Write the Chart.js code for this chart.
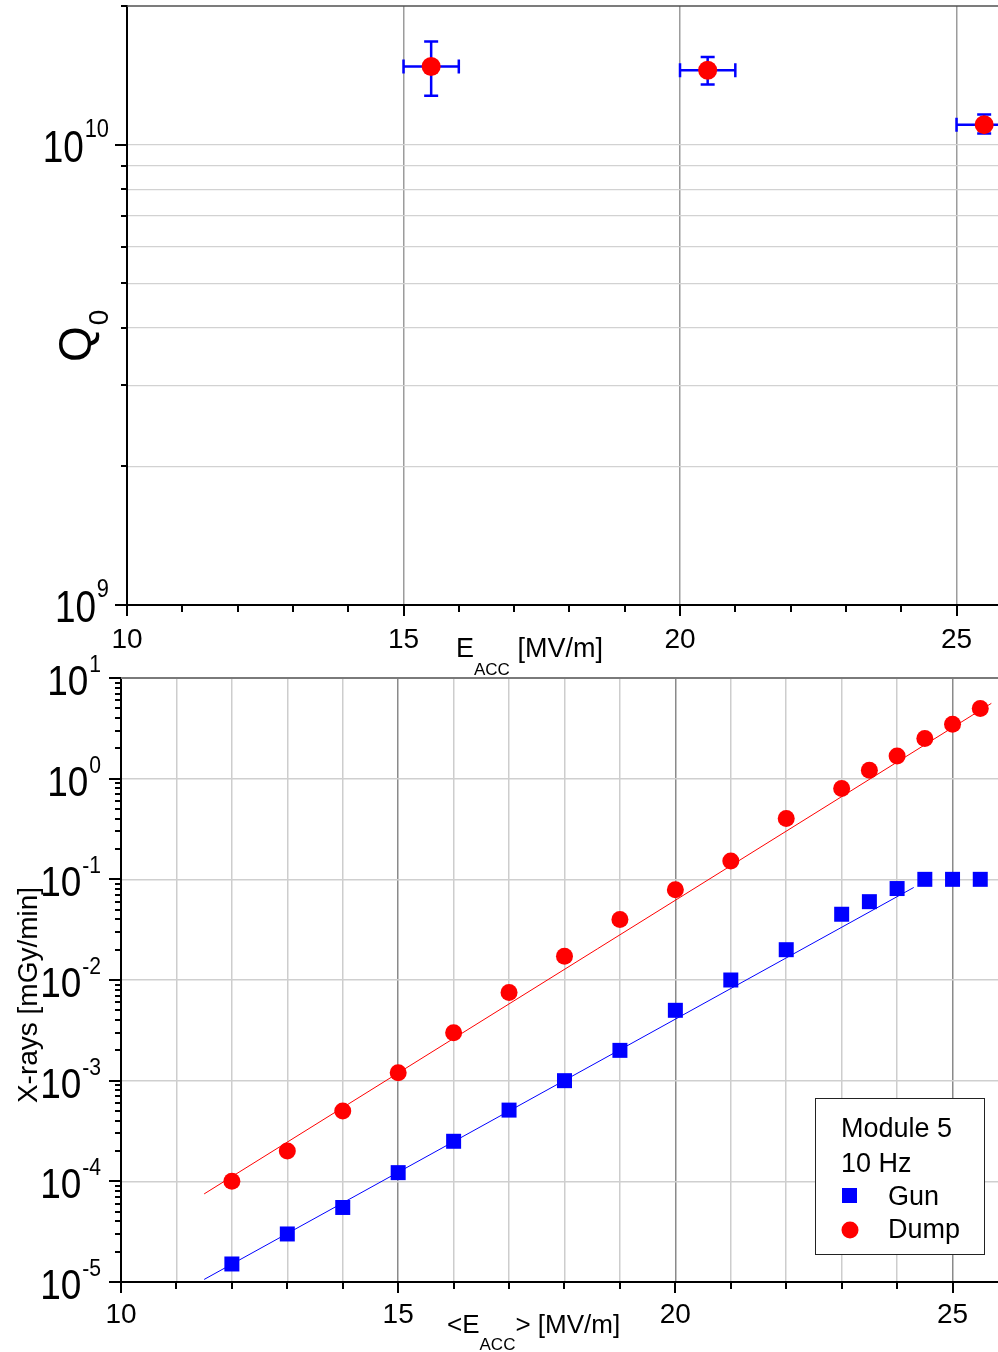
<!DOCTYPE html>
<html lang="en">
<head>
<meta charset="UTF-8">
<title>Q0 and X-rays vs Eacc</title>
<script src="https://cdn.jsdelivr.net/npm/chart.js@4.4.1/dist/chart.umd.min.js"></script>
<style>
  body { margin: 0; background: #fff; }
  #wrap { position: relative; width: 998px; height: 1352px; overflow: hidden; }
  #topChart { position: absolute; left: 0; top: 0; }
  #bottomChart { position: absolute; left: 0; top: 640px; }
</style>
</head>
<body>
<div id="wrap">
  <canvas id="topChart" width="998" height="690"></canvas>
  <canvas id="bottomChart" width="998" height="712"></canvas>
</div>
<script>
// ---- data: top panel, Q0 vs Eacc ----
const q0Eacc = [15.5, 20.5, 25.5];
const q0EaccErr = [0.5, 0.5, 0.5];
const q0Value = [1.478e10, 1.45e10, 1.105e10];
const q0Low = [1.277e10, 1.35e10, 1.057e10];
const q0High = [1.675e10, 1.55e10, 1.162e10];

// ---- data: bottom panel, x-ray dose vs <Eacc> ----
const eaccSteps = [12, 13, 14, 15, 16, 17, 18, 19, 20, 21, 22, 23, 23.5, 24, 24.5, 25, 25.5];
const gunDose = [1.51e-5, 3.0e-5, 5.5e-5, 1.22e-4, 2.5e-4, 5.1e-4, 1.0e-3, 2.0e-3, 5.0e-3, 1.0e-2, 2.0e-2, 4.5e-2, 6.0e-2, 8.1e-2, 0.1, 0.1, 0.1];
const dumpDose = [1.0e-4, 2.0e-4, 5.0e-4, 1.2e-3, 3.0e-3, 7.5e-3, 1.72e-2, 4.0e-2, 7.9e-2, 0.152, 0.403, 0.80, 1.21, 1.68, 2.51, 3.48, 4.98];
const gunFitEacc = [11.5, 24.3];
const gunFit = [1.06e-5, 8.3e-2];
const dumpFitEacc = [11.5, 25.7];
const dumpFit = [7.5e-5, 5.6];

// ---- ticks ----
const xTickValues = [10, 11, 12, 13, 14, 15, 16, 17, 18, 19, 20, 21, 22, 23, 24, 25];
const xLabelValues = [10, 15, 20, 25];
const q0Ticks = [1e9, 2e9, 3e9, 4e9, 5e9, 6e9, 7e9, 8e9, 9e9, 1e10, 2e10];
const q0Labels = [1e9, 1e10];
const q0Exps = ['9', '10'];
const doseDecades = [1e-5, 1e-4, 1e-3, 1e-2, 1e-1, 1e0, 1e1];
const doseExps = ['-5', '-4', '-3', '-2', '-1', '0', '1'];

const FONT = '"Liberation Sans", Arial, Helvetica, sans-serif';
Chart.defaults.font.family = FONT;

function txt(ctx, s, x, y, size, align) {
    ctx.font = size + 'px ' + FONT;
    ctx.textAlign = align || 'left';
    ctx.fillText(s, x, y);
    return ctx.measureText(s).width;
}

function isDecade(v) {
    const l = Math.log10(v);
    return Math.abs(l - Math.round(l)) < 1e-9;
}

// "10" with a raised exponent, right aligned at xRight
function drawPow(ctx, exp, xRight, y, o) {
    ctx.save();
    ctx.translate(xRight, y + o.drop);
    ctx.scale(o.sx, 1);
    ctx.font = o.sup + 'px ' + FONT;
    const we = ctx.measureText(exp).width;
    ctx.textAlign = 'right';
    ctx.fillText(exp, 0, -o.rise);
    ctx.font = o.base + 'px ' + FONT;
    ctx.fillText('10', -we - o.gap, 0);
    ctx.restore();
}

function axisDecor(cfg) {
    return {
        id: 'axisDecor',
        afterDraw(chart) {
            const {ctx, chartArea: a, scales: {x, y}} = chart;
            ctx.save();
            ctx.strokeStyle = cfg.frameColor;
            ctx.lineWidth = cfg.frameWidth;
            ctx.beginPath();
            ctx.moveTo(a.left, a.top);
            ctx.lineTo(a.right, a.top);
            ctx.stroke();

            ctx.strokeStyle = '#000';
            ctx.lineWidth = 2;
            ctx.beginPath();
            xTickValues.forEach(v => {
                const px = Math.round(x.getPixelForValue(v));
                ctx.moveTo(px, a.bottom);
                ctx.lineTo(px, a.bottom + (v % 5 === 0 ? 11 : 7));
            });
            cfg.yTicks.forEach(v => {
                const py = Math.round(y.getPixelForValue(v));
                ctx.moveTo(a.left, py);
                ctx.lineTo(a.left - (isDecade(v) ? 12 : 6), py);
            });
            ctx.stroke();

            ctx.fillStyle = '#000';
            ctx.textBaseline = 'alphabetic';
            xLabelValues.forEach(v => {
                txt(ctx, String(v), x.getPixelForValue(v), a.bottom + cfg.xLabelDrop, 28, 'center');
            });
            cfg.yLabels.forEach((v, i) => {
                drawPow(ctx, cfg.yExps[i], a.left - cfg.labelGap, y.getPixelForValue(v), cfg.pow);
            });
            cfg.titles(ctx, a);
            ctx.restore();
        }
    };
}

const errorBars = {
    id: 'errorBars',
    beforeDatasetsDraw(chart) {
        const {ctx, chartArea: a, scales: {x, y}} = chart;
        ctx.save();
        ctx.beginPath();
        ctx.rect(a.left, a.top, a.right - a.left, a.bottom - a.top);
        ctx.clip();
        ctx.strokeStyle = '#0000ff';
        ctx.lineWidth = 2.5;
        q0Eacc.forEach((e, i) => {
            const px = x.getPixelForValue(e), py = y.getPixelForValue(q0Value[i]);
            const x0 = x.getPixelForValue(e - q0EaccErr[i]), x1 = x.getPixelForValue(e + q0EaccErr[i]);
            const y0 = y.getPixelForValue(q0Low[i]), y1 = y.getPixelForValue(q0High[i]);
            ctx.beginPath();
            ctx.moveTo(x0, py); ctx.lineTo(x1, py);
            ctx.moveTo(x0, py - 7); ctx.lineTo(x0, py + 7);
            ctx.moveTo(x1, py - 7); ctx.lineTo(x1, py + 7);
            ctx.moveTo(px, y0); ctx.lineTo(px, y1);
            ctx.moveTo(px - 7, y0); ctx.lineTo(px + 7, y0);
            ctx.moveTo(px - 7, y1); ctx.lineTo(px + 7, y1);
            ctx.stroke();
        });
        ctx.restore();
    }
};

const legendBox = {
    id: 'legendBox',
    afterDraw(chart) {
        const ctx = chart.ctx;
        ctx.save();
        ctx.fillStyle = '#fff';
        ctx.fillRect(815.5, 458.5, 169, 156);
        ctx.strokeStyle = '#222';
        ctx.lineWidth = 1;
        ctx.strokeRect(815.5, 458.5, 169, 156);
        ctx.fillStyle = '#000';
        ctx.textBaseline = 'alphabetic';
        txt(ctx, 'Module 5', 841, 497, 27);
        txt(ctx, '10 Hz', 841, 532, 27);
        txt(ctx, 'Gun', 888, 565, 27);
        txt(ctx, 'Dump', 888, 598, 27);
        ctx.fillStyle = '#0000ff';
        ctx.fillRect(842, 548, 15, 15);
        ctx.fillStyle = '#ff0000';
        ctx.beginPath();
        ctx.arc(850, 590, 8.5, 0, Math.PI * 2);
        ctx.fill();
        ctx.restore();
    }
};

function xScale(max, gridColor, gridWidth) {
    return {
        type: 'linear', min: 10, max: max,
        afterBuildTicks: s => { s.ticks = xTickValues.map(v => ({value: v})); },
        afterFit: s => { s.height = 0; },
        ticks: {display: false},
        grid: {color: c => gridColor(c.tick.value), lineWidth: gridWidth, drawTicks: false},
        border: {display: true, color: '#000', width: 2}
    };
}

// ---- top chart ----
new Chart(document.getElementById('topChart'), {
    type: 'scatter',
    data: {
        datasets: [{
            label: 'Q0',
            data: q0Eacc.map((e, i) => ({x: e, y: q0Value[i]})),
            pointStyle: 'circle',
            pointRadius: 9.5,
            pointBackgroundColor: '#ff0000',
            pointBorderWidth: 0,
            clip: false
        }]
    },
    options: {
        responsive: false,
        devicePixelRatio: 1,
        animation: false,
        events: [],
        layout: {autoPadding: false, padding: {left: 127, top: 6, right: 0, bottom: 85}},
        plugins: {legend: {display: false}, tooltip: {enabled: false}},
        scales: {
            x: xScale(25.75, v => (v % 5 === 0 && v > 10) ? '#9c9c9c' : 'rgba(0,0,0,0)', 1.5),
            y: {
                type: 'logarithmic', min: 1e9, max: 2e10,
                afterBuildTicks: s => { s.ticks = q0Ticks.map(v => ({value: v})); },
                afterFit: s => { s.width = 0; },
                ticks: {display: false},
                grid: {color: c => c.tick.value >= 2e10 ? 'rgba(0,0,0,0)' : '#d2d2d2', lineWidth: 1.2, drawTicks: false},
                border: {display: true, color: '#000', width: 2}
            }
        }
    },
    plugins: [errorBars, axisDecor({
        frameColor: '#505050', frameWidth: 1.5,
        yTicks: q0Ticks, yLabels: q0Labels, yExps: q0Exps,
        xLabelDrop: 43, labelGap: 18,
        pow: {base: 44, sup: 26, sx: 0.84, drop: 17, rise: 25, gap: 1},
        titles(ctx) {
            ctx.save();
            ctx.translate(91, 362);
            ctx.rotate(-Math.PI / 2);
            const wq = txt(ctx, 'Q', 0, 0, 46);
            txt(ctx, '0', wq + 1, 17, 28);
            ctx.restore();
            let cx = 456;
            cx += txt(ctx, 'E', cx, 657, 27);
            cx += txt(ctx, 'ACC', cx, 675, 17);
            txt(ctx, ' [MV/m]', cx, 657, 27);
        }
    })]
});

// ---- bottom chart ----
new Chart(document.getElementById('bottomChart'), {
    type: 'scatter',
    data: {
        datasets: [{
            label: 'Gun',
            data: eaccSteps.map((e, i) => ({x: e, y: gunDose[i]})),
            pointStyle: 'rect',
            pointRadius: 10.6,
            pointBackgroundColor: '#0000ff',
            pointBorderWidth: 0,
            clip: false
        }, {
            label: 'Dump',
            data: eaccSteps.map((e, i) => ({x: e, y: dumpDose[i]})),
            pointStyle: 'circle',
            pointRadius: 8.5,
            pointBackgroundColor: '#ff0000',
            pointBorderWidth: 0,
            clip: false
        }, {
            label: 'Gun fit',
            data: gunFitEacc.map((e, i) => ({x: e, y: gunFit[i]})),
            showLine: true,
            borderColor: '#0000ff',
            borderWidth: 1,
            pointRadius: 0
        }, {
            label: 'Dump fit',
            data: dumpFitEacc.map((e, i) => ({x: e, y: dumpFit[i]})),
            showLine: true,
            borderColor: '#ff0000',
            borderWidth: 1,
            pointRadius: 0
        }]
    },
    options: {
        responsive: false,
        devicePixelRatio: 1,
        animation: false,
        events: [],
        layout: {autoPadding: false, padding: {left: 121, top: 38, right: 0, bottom: 70}},
        plugins: {legend: {display: false}, tooltip: {enabled: false}},
        scales: {
            x: xScale(25.82, v => v % 5 === 0 ? '#8a8a8a' : '#cdcdcd', 1.5),
            y: {
                type: 'logarithmic', min: 1e-5, max: 10,
                afterBuildTicks: s => { s.ticks = doseDecades.map(v => ({value: v})); },
                afterFit: s => { s.width = 0; },
                ticks: {display: false},
                grid: {color: c => c.tick.value >= 10 ? 'rgba(0,0,0,0)' : '#cfcfcf', lineWidth: 1.5, drawTicks: false},
                border: {display: true, color: '#000', width: 2}
            }
        }
    },
    plugins: [axisDecor({
        frameColor: '#7a7a7a', frameWidth: 2,
        yTicks: doseDecades.flatMap(d => d >= 10 ? [d] : [1, 2, 3, 4, 5, 6, 7, 8, 9].map(m => m * d)),
        yLabels: doseDecades, yExps: doseExps,
        xLabelDrop: 41, labelGap: 20,
        pow: {base: 42, sup: 24, sx: 0.88, drop: 17, rise: 23, gap: 1},
        titles(ctx) {
            ctx.save();
            ctx.translate(37, 355);
            ctx.rotate(-Math.PI / 2);
            txt(ctx, 'X-rays [mGy/min]', 0, 0, 28, 'center');
            ctx.restore();
            let cx = 447;
            cx += txt(ctx, '<', cx, 693, 26);
            cx += txt(ctx, 'E', cx, 693, 26);
            cx += txt(ctx, 'ACC', cx, 710, 17);
            txt(ctx, '> [MV/m]', cx, 693, 26);
        }
    }), legendBox]
});
</script>
</body>
</html>
